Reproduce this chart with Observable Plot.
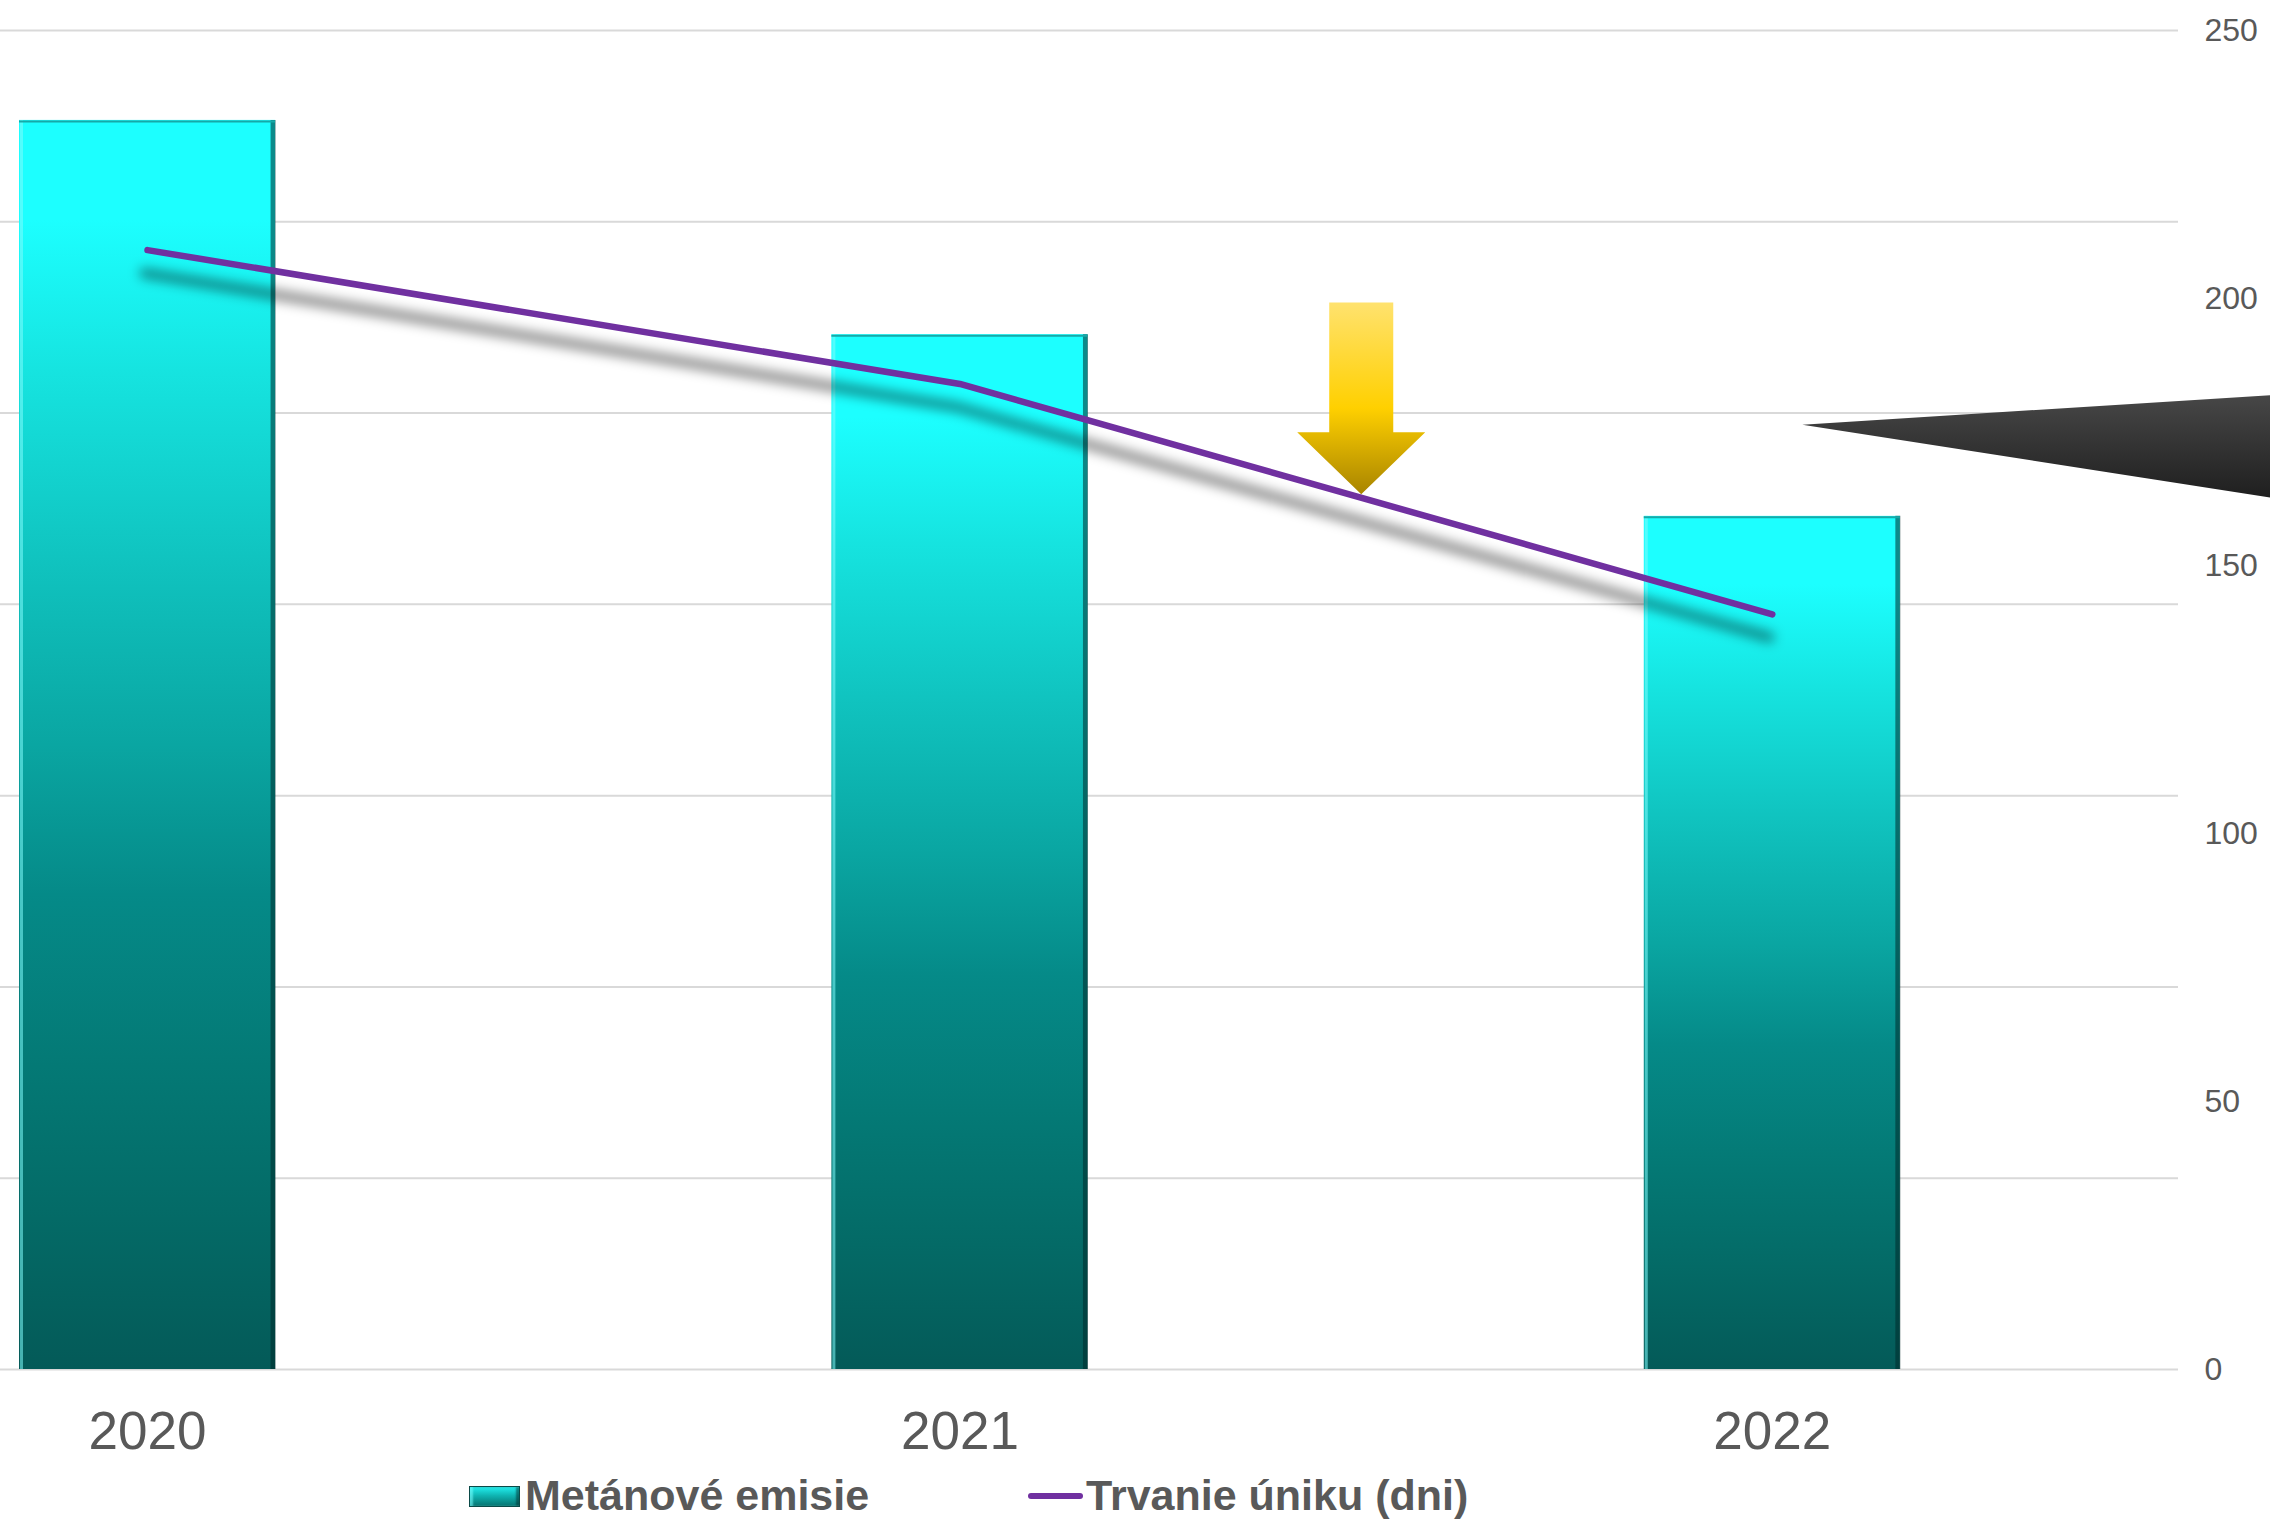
<!DOCTYPE html>
<html><head><meta charset="utf-8">
<script src="https://cdn.jsdelivr.net/npm/d3@7"></script>
<script src="https://cdn.jsdelivr.net/npm/@observablehq/plot@0.6"></script>
<style>
body{margin:0;background:#fff;font-family:"Liberation Sans",Arial,sans-serif;}
#wrap{position:relative;width:2270px;height:1519px;overflow:hidden;background:#fff;}
#chart svg{display:block;}
.leg{position:absolute;font-weight:bold;font-size:43px;line-height:43px;color:#595959;white-space:nowrap;}
.sw1{position:absolute;left:469px;top:1486px;width:49px;height:19px;border:1px solid #0b4a48;
  background:linear-gradient(#22eeee,#0fb4b2 45%,#077370);box-shadow:inset 3px 0 2px rgba(120,255,255,.6), inset -3px 0 2px rgba(0,40,40,.5);}
.sw2{position:absolute;left:1028px;top:1493px;width:55px;height:6px;border-radius:3px;background:#7030a0;}
</style></head><body>
<div id="wrap">
  <div id="chart"></div>
  <div class="sw1"></div><div class="leg" id="l1" style="left:525px;top:1474px;"></div>
  <div class="sw2"></div><div class="leg" id="l2" style="left:1086px;top:1474px;"></div>
</div>
<script>
// ---- data ----
const years = [2020, 2021, 2022];
const emisie = [65.3, 54.1, 44.6];          // bars, left (hidden) axis 0–70
const trvanie = [209, 184, 141];             // line, right axis 0–250
const leftTicks = [0, 10, 20, 30, 40, 50, 60, 70];
const rightTicks = [0, 50, 100, 150, 200, 250];
const seriesNames = ["Metánové emisie", "Trvanie úniku (dni)"];
// decorative annotations (data units: year, days)
const arrowYear = [2021.494];
const arrowDays = [199.2, 175.0, 163.4];     // shaft top, head base, tip
const wedgeYears = [2022.037, 2022.613, 2022.613];
const wedgeDays = [176.4, 181.9, 162.8];

// ---- derived ----
const LEFT_MAX = 70, RIGHT_MAX = 250, k = LEFT_MAX / RIGHT_MAX;
const barHalf = 0.1576, shaftHalf = 0.0394, headHalf = 0.0788;
const bars = years.map((year, i) => ({year, value: emisie[i]}));
const line = years.map((year, i) => ({year, y: trvanie[i] * k}));
const ax = arrowYear[0];
const arrow = [
  [ax - shaftHalf, arrowDays[0]], [ax + shaftHalf, arrowDays[0]], [ax + shaftHalf, arrowDays[1]],
  [ax + headHalf, arrowDays[1]], [ax, arrowDays[2]], [ax - headHalf, arrowDays[1]],
  [ax - shaftHalf, arrowDays[1]], [ax - shaftHalf, arrowDays[0]]
].map(([x, d]) => ({x, y: d * k}));
const wedge = wedgeYears.map((x, i) => ({x, y: wedgeDays[i] * k}));

document.getElementById("l1").textContent = seriesNames[0];
document.getElementById("l2").textContent = seriesNames[1];

// placeholder colours, swapped for gradients after rendering
const BAR_PH = "#10c0c1", ARROW_PH = "#ffd001", WEDGE_PH = "#333334", SHADOW_PH = "#000001";

const chart = Plot.plot({
  width: 2270, height: 1470,
  marginLeft: 0, marginRight: 92, marginTop: 30, marginBottom: 101,
  style: {fontFamily: '"Liberation Sans", Arial, sans-serif', background: "transparent"},
  x: {type: "linear", domain: [2019.819, 2022.5]},
  y: {domain: [0, LEFT_MAX]},
  marks: [
    Plot.gridY(leftTicks, {stroke: "#d9d9d9", strokeOpacity: 1, strokeWidth: 2}),
    Plot.rectY(bars, {x1: d => d.year - barHalf, x2: d => d.year + barHalf, y1: 0, y2: "value", fill: BAR_PH}),
    Plot.ruleX(bars, {x: d => d.year - barHalf, y1: 0, y2: "value", dx: 2, stroke: "#7ffcfc", strokeOpacity: 0.55, strokeWidth: 3}),
    Plot.ruleX(bars, {x: d => d.year + barHalf, y1: 0, y2: "value", dx: -2.5, stroke: "#002a2a", strokeOpacity: 0.55, strokeWidth: 5}),
    Plot.ruleY(bars, {x1: d => d.year - barHalf, x2: d => d.year + barHalf, y: "value", dy: 1, stroke: "#17a9a8", strokeWidth: 2}),
    Plot.line(line, {x: "year", y: "y", dx: -3, dy: 23, stroke: SHADOW_PH, strokeOpacity: 0.42, strokeWidth: 11,
      strokeLinecap: "round"}),
    Plot.line(line, {x: "year", y: "y", stroke: "#7030a0", strokeWidth: 6.5, strokeLinecap: "round", strokeLinejoin: "round"}),
    Plot.line(arrow, {x: "x", y: "y", fill: ARROW_PH, stroke: "none"}),
    Plot.line(wedge, {x: "x", y: "y", fill: WEDGE_PH, stroke: "none"}),
    Plot.axisX({ticks: years, tickFormat: d => String(d), tickSize: 0, tickPadding: 42, fontSize: 53,
      color: "#595959", label: null}),
    Plot.axisY({anchor: "right", ticks: rightTicks.map(v => v * k), tickFormat: d => String(Math.round(d / k)),
      tickSize: 0, tickPadding: 26, fontSize: 32, color: "#595959", label: null})
  ]
});
document.getElementById("chart").appendChild(chart);

// gradients & filters
const svg = d3.select(chart);
const defs = svg.insert("defs", ":first-child");
const bg = defs.append("linearGradient").attr("id", "barGrad").attr("x1", 0).attr("y1", 0).attr("x2", 0).attr("y2", 1);
[[0, "#1cffff"], [0.08, "#1cffff"], [0.2, "#16e4e0"], [0.35, "#10c4c0"], [0.5, "#0aa6a2"],
 [0.62, "#058a88"], [0.75, "#047a76"], [0.88, "#046a66"], [1, "#045a58"]]
  .forEach(([o, c]) => bg.append("stop").attr("offset", o).attr("stop-color", c));
const gg = defs.append("linearGradient").attr("id", "goldGrad").attr("x1", 0).attr("y1", 0).attr("x2", 0).attr("y2", 1);
[[0, "#ffe26e"], [0.55, "#ffd000"], [1, "#a88400"]].forEach(([o, c]) => gg.append("stop").attr("offset", o).attr("stop-color", c));
const dg = defs.append("linearGradient").attr("id", "darkGrad").attr("x1", 0).attr("y1", 0).attr("x2", 0).attr("y2", 1);
[[0, "#474747"], [1, "#1f1f1f"]].forEach(([o, c]) => dg.append("stop").attr("offset", o).attr("stop-color", c));
defs.append("filter").attr("id", "blur").attr("filterUnits", "userSpaceOnUse")
  .attr("x", 0).attr("y", 0).attr("width", 2270).attr("height", 1470)
  .append("feGaussianBlur").attr("stdDeviation", 6);

const swap = (ph, url) => {
  chart.querySelectorAll("[fill]").forEach(el => {
    if ((el.getAttribute("fill") || "").toLowerCase() === ph) el.setAttribute("fill", url);
  });
};
swap(BAR_PH, "url(#barGrad)");
swap(ARROW_PH, "url(#goldGrad)");
swap(WEDGE_PH, "url(#darkGrad)");
chart.querySelectorAll("[stroke]").forEach(el => {
  if ((el.getAttribute("stroke") || "").toLowerCase() === SHADOW_PH) el.setAttribute("filter", "url(#blur)");
});
</script>
</body></html>
